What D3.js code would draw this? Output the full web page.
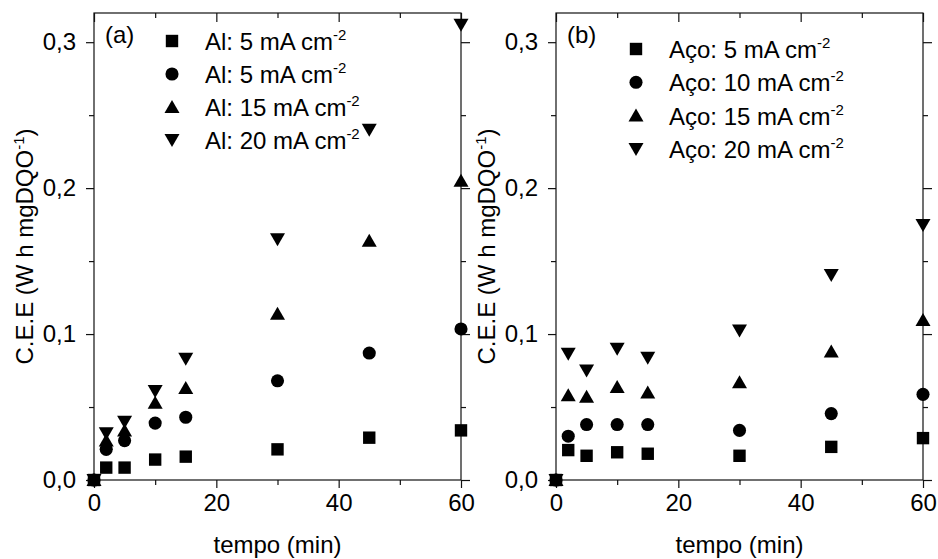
<!DOCTYPE html>
<html>
<head>
<meta charset="utf-8">
<script src="https://cdn.jsdelivr.net/npm/d3@7"></script>
<style>
  body { margin: 0; background: #fff; }
  svg { display: block; font-family: "Liberation Sans", Arial, sans-serif; }
  .domain { display: none; }
</style>
</head>
<body>
<svg id="chart" width="938" height="559"></svg>
<script>
// time points (min)
const tempo = [0, 2, 5, 10, 15, 30, 45, 60];

// panel (a) - Al electrodes
const al5a  = [0, 0.0085, 0.0085, 0.014, 0.016, 0.021, 0.029, 0.034];
const al5b  = [0, 0.021, 0.027, 0.039, 0.043, 0.068, 0.087, 0.1035];
const al15  = [0, 0.027, 0.034, 0.053, 0.063, 0.114, 0.164, 0.205];
const al20  = [0, 0.032, 0.040, 0.061, 0.083, 0.165, 0.240, 0.312];

// panel (b) - Aço electrodes
const aco5  = [0, 0.0205, 0.0166, 0.019, 0.018, 0.0166, 0.0227, 0.0287];
const aco10 = [0, 0.030, 0.038, 0.038, 0.038, 0.034, 0.0455, 0.0587];
const aco15 = [0, 0.058, 0.057, 0.0637, 0.060, 0.067, 0.088, 0.1097];
const aco20 = [0, 0.0865, 0.075, 0.090, 0.0838, 0.1024, 0.1404, 0.1747];

const labelsA = ["Al: 5 mA cm", "Al: 5 mA cm", "Al: 15 mA cm", "Al: 20 mA cm"];
const labelsB = ["Aço: 5 mA cm", "Aço: 10 mA cm", "Aço: 15 mA cm", "Aço: 20 mA cm"];

const yTicks = [0, 0.1, 0.2, 0.3];
const yMinor = [0.05, 0.15, 0.25];
const xTicks = [0, 20, 40, 60];
const xMinor = [10, 30, 50];

const svg = d3.select("#chart");

// marker shapes
const markers = [
  () => `M${-6.2},${-6.2}h12.4v12.4h-12.4z`,
  () => d3.symbol(d3.symbolCircle, 135)(),
  () => `M0,${-7}L7.5,6L-7.5,6z`,
  () => `M0,${7}L7.5,-6L-7.5,-6z`
];

const fmt = v => d3.format(".1f")(v).replace(".", ",");

function drawPanel(left, series, labels, tag, legendX, legendY, legendStep){
  const top = 13, bottom = 480, right = left + 367;
  const x = d3.scaleLinear().domain([0, 60]).range([left, right]);
  const y = d3.scaleLinear().domain([0, 0.32]).range([bottom, top]);
  const g = svg.append("g");

  // frame
  g.append("rect")
    .attr("x", left).attr("y", top)
    .attr("width", right - left).attr("height", bottom - top)
    .attr("fill", "none").attr("stroke", "#111").attr("stroke-width", 1.2);

  // ticks
  const tk = (axis, tr, vals, size, lab) => {
    const a = g.append("g").attr("transform", tr)
      .call(axis.tickValues(vals).tickSize(size).tickFormat(lab ? fmt : ""));
    a.selectAll("line").attr("stroke", "#111").attr("stroke-width", 1.2);
    return a;
  };
  const yl = tk(d3.axisLeft(y), `translate(${left},0)`, yTicks, 8, true);
  yl.selectAll("text").attr("font-size", 24).attr("fill", "#000").attr("dx", "-7");
  tk(d3.axisLeft(y), `translate(${left},0)`, yMinor, 5, false);
  tk(d3.axisLeft(y), `translate(${right},0)`, yTicks, -9, false);
  tk(d3.axisLeft(y), `translate(${right},0)`, yMinor, -5, false);

  const xb = g.append("g").attr("transform", `translate(0,${bottom})`)
    .call(d3.axisBottom(x).tickValues(xTicks).tickSize(8).tickFormat(d => d));
  xb.selectAll("line").attr("stroke", "#111").attr("stroke-width", 1.2);
  xb.selectAll("text").attr("font-size", 24).attr("fill", "#000").attr("dy", "0.85em");
  tk(d3.axisBottom(x), `translate(0,${bottom})`, xMinor, 5, false);
  tk(d3.axisBottom(x), `translate(0,${top})`, xTicks, 9, false);
  tk(d3.axisBottom(x), `translate(0,${top})`, xMinor, 5, false);

  // axis titles
  g.append("text")
    .attr("x", (left + right) / 2).attr("y", 553)
    .attr("text-anchor", "middle").attr("font-size", 24)
    .text("tempo (min)");

  const yt = g.append("text")
    .attr("transform", `translate(${left - 61},${(top + bottom) / 2}) rotate(-90)`)
    .attr("text-anchor", "middle").attr("font-size", 24);
  yt.append("tspan").text("C.E.E (W h mgDQO");
  yt.append("tspan").attr("font-size", 15).attr("dy", -9).text("-1");
  yt.append("tspan").attr("dy", 9).text(")");

  // data points
  series.forEach((vals, i) => {
    g.append("g").selectAll("path")
      .data(vals.map((v, j) => [tempo[j], v]))
      .join("path")
      .attr("transform", d => `translate(${x(d[0])},${y(d[1])})`)
      .attr("d", markers[i]())
      .attr("fill", "#000");
  });

  // panel tag
  g.append("text").attr("x", left + 11).attr("y", 43)
    .attr("font-size", 24).text(tag);

  // legend
  labels.forEach((lab, i) => {
    const cy = legendY + i * legendStep;
    g.append("path")
      .attr("transform", `translate(${legendX},${cy})`)
      .attr("d", markers[i]()).attr("fill", "#000");
    const t = g.append("text")
      .attr("x", legendX + 33).attr("y", cy + 9)
      .attr("font-size", 24);
    t.append("tspan").text(lab);
    t.append("tspan").attr("font-size", 15).attr("dy", -10).text("-2");
  });
}

drawPanel(94, [al5a, al5b, al15, al20], labelsA, "(a)", 172, 41, 33);
drawPanel(556, [aco5, aco10, aco15, aco20], labelsB, "(b)", 636, 49, 33.3);
</script>
</body>
</html>
